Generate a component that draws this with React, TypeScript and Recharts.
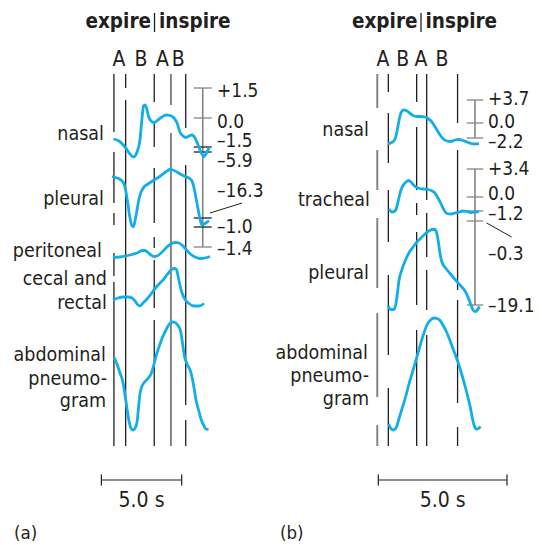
import { LineChart, Line, XAxis, YAxis, ReferenceLine } from "recharts";

// time axis: seconds from the left end of each 5.0 s scale bar; vertical: chart rows (top = 0)
// trace points are [t (s), deflection above the lane baseline]

const nasalA: [number, number][] = [
  [0.75, 0], [1.1, -2], [1.47, -8], [1.78, -15], [2.0, -18], [2.22, -13], [2.4, -1], [2.53, 21],
  [2.62, 33], [2.72, 34], [2.81, 31], [2.93, 23], [3.09, 18], [3.28, 16.5], [3.52, 19], [3.77, 22],
  [4.02, 24], [4.27, 23.5], [4.52, 21], [4.71, 16], [4.89, 7], [5.08, 3], [5.27, 1.5], [5.45, 3],
  [5.64, 4], [5.83, 1], [6.02, -6], [6.2, -13], [6.39, -17.5], [6.51, -15], [6.64, -10.5], [6.76, -9],
];
const pleuralA: [number, number][] = [
  [0.66, 3.5], [0.97, 2], [1.22, 0], [1.41, -4], [1.53, -12], [1.66, -25], [1.78, -38], [1.91, -46],
  [2.0, -46.5], [2.09, -41], [2.22, -30], [2.34, -19], [2.47, -12], [2.65, -7], [2.9, -4], [3.28, 0],
  [3.59, 3], [3.84, 6], [4.08, 9], [4.27, 10.5], [4.46, 10], [4.71, 8], [4.96, 5.5], [5.21, 3.5],
  [5.45, 2], [5.64, -1], [5.77, -8], [5.89, -18], [6.02, -29], [6.14, -39], [6.26, -45], [6.45, -43.5],
  [6.7, -40.5],
];
const peritonealA: [number, number][] = [
  [0.72, -0.5], [1.16, 0], [1.53, 1], [1.91, 2.5], [2.22, 4], [2.53, 6.5], [2.72, 6.5], [2.9, 4.5],
  [3.09, 2], [3.28, 0.5], [3.46, 1], [3.65, 3], [3.84, 6], [4.08, 10], [4.33, 13], [4.58, 14.5],
  [4.83, 14], [5.08, 11], [5.33, 6.5], [5.58, 2.5], [5.83, 0], [6.14, -1.5], [6.45, -1], [6.76, 0.5],
];
const cecalA: [number, number][] = [
  [0.72, 0], [1.03, 2], [1.35, 3], [1.66, 3], [1.91, 2], [2.09, -1], [2.28, -5], [2.4, -6],
  [2.59, -3], [2.84, 1], [3.09, 6], [3.34, 11.5], [3.59, 16], [3.84, 20], [4.08, 25], [4.33, 30],
  [4.52, 31.5], [4.68, 30.5], [4.77, 24], [4.89, 15], [5.02, 7], [5.21, 0.5], [5.45, -3.5], [5.77, -6],
  [6.08, -6], [6.39, -3.5],
];
const abdominalA: [number, number][] = [
  [0.78, 23], [0.97, 16], [1.16, 7], [1.35, -3], [1.47, -15], [1.59, -28], [1.72, -41], [1.84, -48],
  [1.97, -50], [2.09, -48.5], [2.22, -42], [2.31, -28], [2.4, -14], [2.53, -6], [2.72, -1.5], [2.9, 1.5],
  [3.09, 6], [3.28, 16], [3.46, 27], [3.65, 36], [3.84, 44], [4.05, 51], [4.21, 55.5], [4.4, 58],
  [4.58, 57.5], [4.77, 54.5], [4.93, 49], [5.05, 37], [5.17, 24], [5.33, 16], [5.52, 10], [5.64, 3],
  [5.77, -8], [5.89, -20], [6.05, -30], [6.2, -39], [6.39, -46], [6.51, -49], [6.67, -49.5],
];

const nasalB: [number, number][] = [
  [0.38, -3.5], [0.53, -2.5], [0.65, 1], [0.73, 9], [0.8, 19], [0.88, 27], [0.98, 30], [1.08, 29.5],
  [1.19, 27.5], [1.35, 24.5], [1.5, 23.5], [1.66, 23.5], [1.81, 23], [1.93, 21.5], [2.05, 19], [2.16, 15],
  [2.28, 10], [2.4, 5], [2.51, 1.5], [2.67, -1], [2.82, -1.5], [2.98, 0], [3.14, 0.5], [3.29, -0.5],
  [3.45, -2], [3.6, -3.5], [3.76, -4], [3.91, -3.5],
];
const trachealB: [number, number][] = [
  [0.42, 1], [0.53, -2], [0.65, -1], [0.73, 4], [0.8, 12], [0.88, 20], [0.96, 24.5], [1.08, 28],
  [1.17, 29.5], [1.27, 28], [1.39, 24.5], [1.54, 22], [1.74, 21], [1.93, 20.5], [2.09, 19], [2.2, 17],
  [2.32, 12], [2.44, 6], [2.55, 0], [2.67, -3.5], [2.82, -4], [2.98, -3], [3.14, -2], [3.29, -1],
  [3.45, -1.5], [3.6, -2.5], [3.76, -2], [3.91, -1.5],
];
const pleuralB: [number, number][] = [
  [0.38, -36], [0.49, -39.5], [0.61, -39.5], [0.69, -33], [0.75, -22], [0.8, -11], [0.9, -1], [1.04, 9],
  [1.19, 17], [1.35, 23], [1.5, 28], [1.66, 32], [1.81, 36], [1.97, 39], [2.09, 40.5], [2.2, 40.5],
  [2.28, 36], [2.34, 27], [2.4, 16], [2.47, 8], [2.63, 1.5], [2.79, -3.5], [2.98, -9.5], [3.17, -15],
  [3.37, -21], [3.5, -28], [3.6, -35], [3.68, -40], [3.76, -41.5], [3.85, -40], [3.93, -36.5],
];
const abdominalB: [number, number][] = [
  [0.4, -44], [0.49, -48.5], [0.59, -50], [0.69, -48], [0.8, -39], [0.92, -29], [1.06, -17], [1.19, -4],
  [1.33, 8], [1.48, 21.5], [1.62, 34], [1.76, 46], [1.89, 55], [2.03, 60], [2.16, 62], [2.28, 61.5],
  [2.4, 59.5], [2.53, 54], [2.67, 47], [2.82, 37], [2.98, 26], [3.12, 16], [3.25, 5], [3.37, -6],
  [3.48, -17], [3.58, -28], [3.66, -39], [3.72, -45], [3.8, -49], [3.89, -48.5], [3.97, -46.5],
];

// lane baselines (rows)
const tracesA = [
  { pts: nasalA, base: 139 },
  { pts: pleuralA, base: 180 },
  { pts: peritonealA, base: 257 },
  { pts: cecalA, base: 300 },
  { pts: abdominalA, base: 380 },
];
const tracesB = [
  { pts: nasalB, base: 140 },
  { pts: trachealB, base: 210 },
  { pts: pleuralB, base: 270 },
  { pts: abdominalB, base: 380 },
];

// A / B phase markers: time, colour, visible row spans
const markersA = [
  { t: 0.78, gray: false, segs: [[74, 132], [152, 203], [213, 225], [253, 276], [282, 446]] },
  { t: 1.51, gray: false, segs: [[74, 88], [100, 446]] },
  { t: 3.29, gray: false, segs: [[74, 102], [122, 147], [168, 223], [237, 248], [260, 308], [320, 446]] },
  { t: 4.33, gray: true, segs: [[74, 105], [133, 446]] },
  { t: 5.25, gray: false, segs: [[74, 128], [165, 405], [420, 446]] },
];
const markersB = [
  { t: -0.04, gray: true, segs: [[74, 108], [150, 190], [218, 288], [313, 397], [425, 446]] },
  { t: 0.39, gray: false, segs: [[74, 92], [113, 163], [190, 242], [275, 355], [388, 446]] },
  { t: 1.49, gray: false, segs: [[74, 102], [127, 190], [203, 215], [232, 305], [330, 446]] },
  { t: 1.88, gray: false, segs: [[74, 200], [213, 257], [270, 310], [335, 446]] },
  { t: 3.08, gray: false, segs: [[74, 123], [150, 290], [300, 403], [427, 446]] },
];

// calibration brackets
const calA = { t: 6.31, half: 0.56, spans: [[88, 247]], ticks: [[88, true], [118, true], [147, false], [152, false], [218, false], [227, false], [247, true]] as [number, boolean][] };
const calB = { t: 3.757, half: 0.32, spans: [[100, 138], [169, 305]], ticks: [[100, true], [123, true], [138, true], [169, true], [197, true], [211, true], [221, true], [305, true]] as [number, boolean][] };
const leaderA = [[6.76, 213], [8.76, 203]];
const leaderB = [[4.21, 223], [5.18, 237]];

const numbersA: [string, number][] = [["+1.5", 97], ["0.0", 128], ["–1.5", 146.7], ["–5.9", 166.7], ["–16.3", 196.7], ["–1.0", 233], ["–1.4", 255]];
const numbersB: [string, number][] = [["+3.7", 105], ["0.0", 128.3], ["–2.2", 148.3], ["+3.4", 175], ["0.0", 200], ["–1.2", 220], ["–0.3", 260], ["–19.1", 311.7]];

const labelsA: [string, number, number][] = [
  ["nasal", 104, 140], ["pleural", 104, 205], ["peritoneal", 102, 257], ["cecal and", 107, 285],
  ["rectal", 107, 309], ["abdominal", 106, 360.5], ["pneumo-", 107, 385], ["gram", 106, 407],
];
const labelsB: [string, number, number][] = [
  ["nasal", 369, 136], ["tracheal", 370, 206], ["pleural", 369, 279], ["abdominal", 368, 358.5],
  ["pneumo-", 369, 382], ["gram", 369, 405],
];
const lettersA: [string, number][] = [["A", 119], ["B", 141], ["A", 162.5], ["B", 178.3]];
const lettersB: [string, number][] = [["A", 383], ["B", 402.7], ["A", 421], ["B", 442]];

const W = 542;
const H = 545;
const PX_A = 16.06, T0_A = 101.4;
const PX_B = 25.74, T0_B = 378.3;
const CYAN = "#12aee8";
const INK = "#231f20";
const GRAY = "#858585";
const FONT = '"DejaVu Sans Condensed", "Liberation Sans", sans-serif';

function seg(axis: string, x1: number, y1: number, x2: number, y2: number, stroke: string, w: number, key: string) {
  return (
    <ReferenceLine
      key={key}
      xAxisId={axis}
      segment={[{ x: x1, y: y1 }, { x: x2, y: y2 }]}
      stroke={stroke}
      strokeWidth={w}
      ifOverflow="visible"
    />
  );
}

function panelMarks(axis: string, markers: typeof markersA, cal: typeof calA, leader: number[][]) {
  const out: any[] = [];
  markers.forEach((m, i) =>
    m.segs.forEach((s, j) => out.push(seg(axis, m.t, s[0], m.t, s[1], m.gray ? GRAY : INK, m.gray ? 2 : 1.3, `${axis}m${i}${j}`)))
  );
  cal.spans.forEach((s, i) => out.push(seg(axis, cal.t, s[0], cal.t, s[1], GRAY, 1.6, `${axis}c${i}`)));
  cal.ticks.forEach(([r, g], i) => out.push(seg(axis, cal.t - cal.half, r, cal.t + cal.half, r, g ? GRAY : INK, 1.3, `${axis}k${i}`)));
  out.push(seg(axis, leader[0][0], leader[0][1], leader[1][0], leader[1][1], INK, 1, `${axis}l`));
  // 5.0 s scale bar
  out.push(seg(axis, 0, 480, 5, 480, INK, 1.2, `${axis}s`));
  out.push(seg(axis, 0, 474.5, 0, 485.5, INK, 1.2, `${axis}s0`));
  out.push(seg(axis, 5, 474.5, 5, 485.5, INK, 1.2, `${axis}s1`));
  return out;
}

function Title({ sep }: { sep: number }) {
  return (
    <g>
      <text x={sep - 3.5} y={27.5} textAnchor="end" fontSize={20.5} fontWeight="bold" fill={INK}>expire</text>
      <line x1={sep} y1={13} x2={sep} y2={32} stroke={INK} strokeWidth={1.3} />
      <text x={sep + 4.5} y={27.5} textAnchor="start" fontSize={20.5} fontWeight="bold" fill={INK}>inspire</text>
    </g>
  );
}

export default function App() {
  return (
    <div style={{ position: "absolute", left: 0, top: 0, width: W, height: H, background: "#fff", fontFamily: FONT }}>
      <LineChart width={W} height={H} margin={{ top: 0, right: 0, bottom: 0, left: 0 }}>
        <XAxis xAxisId="a" type="number" dataKey="t" hide allowDataOverflow domain={[-T0_A / PX_A, (W - T0_A) / PX_A]} />
        <XAxis xAxisId="b" type="number" dataKey="t" hide allowDataOverflow domain={[-T0_B / PX_B, (W - T0_B) / PX_B]} />
        <YAxis type="number" hide reversed allowDataOverflow domain={[0, H]} />
        {panelMarks("a", markersA, calA, leaderA)}
        {panelMarks("b", markersB, calB, leaderB)}
        {tracesA.map((tr, i) => (
          <Line
            key={`ta${i}`}
            xAxisId="a"
            data={tr.pts.map(([t, v]) => ({ t, y: tr.base - v }))}
            dataKey="y"
            type="monotone"
            stroke={CYAN}
            strokeWidth={2.8}
            dot={false}
            activeDot={false}
            isAnimationActive={false}
          />
        ))}
        {tracesB.map((tr, i) => (
          <Line
            key={`tb${i}`}
            xAxisId="b"
            data={tr.pts.map(([t, v]) => ({ t, y: tr.base - v }))}
            dataKey="y"
            type="monotone"
            stroke={CYAN}
            strokeWidth={2.8}
            dot={false}
            activeDot={false}
            isAnimationActive={false}
          />
        ))}
      </LineChart>
      <svg width={W} height={H} style={{ position: "absolute", left: 0, top: 0, pointerEvents: "none" }} fontFamily={FONT}>
        <Title sep={154.5} />
        <Title sep={421} />
        {[...lettersA, ...lettersB].map(([s, x], i) => (
          <text key={`L${i}`} x={x} y={66} textAnchor="middle" fontSize={21} fill={INK}>{s}</text>
        ))}
        {[...labelsA, ...labelsB].map(([s, x, y], i) => (
          <text key={`lb${i}`} x={x} y={y} textAnchor="end" fontSize={19.5} fill={INK}>{s}</text>
        ))}
        {numbersA.map(([s, y], i) => (
          <text key={`na${i}`} x={217} y={y} fontSize={19} fill={INK}>{s}</text>
        ))}
        {numbersB.map(([s, y], i) => (
          <text key={`nb${i}`} x={488} y={y} fontSize={19} fill={INK}>{s}</text>
        ))}
        <text x={T0_A + 2.5 * PX_A} y={507} textAnchor="middle" fontSize={21} fill={INK}>5.0 s</text>
        <text x={T0_B + 2.5 * PX_B} y={507} textAnchor="middle" fontSize={21} fill={INK}>5.0 s</text>
        <text x={14} y={539} fontSize={18.5} fill={INK}>(a)</text>
        <text x={280} y={539} fontSize={18.5} fill={INK}>(b)</text>
      </svg>
    </div>
  );
}
